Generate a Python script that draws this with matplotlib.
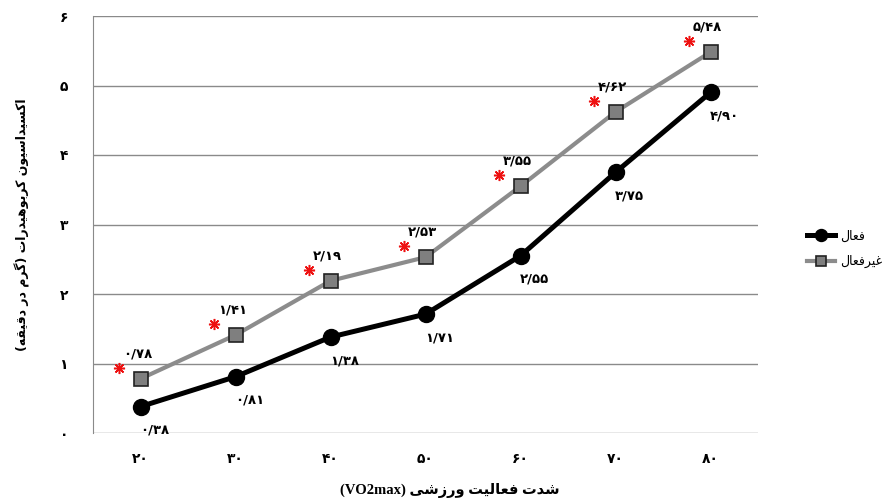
import numpy as np
import matplotlib
matplotlib.use("Agg")
import matplotlib.pyplot as plt
from matplotlib.transforms import offset_copy

# data
intensity = [20, 30, 40, 50, 60, 70, 80]
active = [0.38, 0.81, 1.38, 1.71, 2.55, 3.75, 4.90]
inactive = [0.78, 1.41, 2.19, 2.53, 3.55, 4.62, 5.48]
yticks = [0, 1, 2, 3, 4, 5, 6]

ylabel_txt = "اکسیداسیون کربوهیدرات (گرم در دقیقه)"
xlabel_txt = "شدت فعالیت ورزشی"
name_active = "فعال"
name_inactive = "غیرفعال"

# simple arabic/persian shaping (no bidi lib available)
FORMS = {
    'ا': (0xFE8D, 0xFE8E, None, None),
    'ب': (0xFE8F, 0xFE90, 0xFE91, 0xFE92),
    'ت': (0xFE95, 0xFE96, 0xFE97, 0xFE98),
    'د': (0xFEA9, 0xFEAA, None, None),
    'ر': (0xFEAD, 0xFEAE, None, None),
    'ز': (0xFEAF, 0xFEB0, None, None),
    'س': (0xFEB1, 0xFEB2, 0xFEB3, 0xFEB4),
    'ش': (0xFEB5, 0xFEB6, 0xFEB7, 0xFEB8),
    'ع': (0xFEC9, 0xFECA, 0xFECB, 0xFECC),
    'غ': (0xFECD, 0xFECE, 0xFECF, 0xFED0),
    'ف': (0xFED1, 0xFED2, 0xFED3, 0xFED4),
    'ق': (0xFED5, 0xFED6, 0xFED7, 0xFED8),
    'ل': (0xFEDD, 0xFEDE, 0xFEDF, 0xFEE0),
    'م': (0xFEE1, 0xFEE2, 0xFEE3, 0xFEE4),
    'ن': (0xFEE5, 0xFEE6, 0xFEE7, 0xFEE8),
    'ه': (0xFEE9, 0xFEEA, 0xFEEB, 0xFEEC),
    'و': (0xFEED, 0xFEEE, None, None),
    'ی': (0xFBFC, 0xFBFD, 0xFBFE, 0xFBFF),
    'ک': (0xFB8E, 0xFB8F, 0xFB90, 0xFB91),
    'گ': (0xFB92, 0xFB93, 0xFB94, 0xFB95),
}


def rtl(s):
    out = []
    for i, ch in enumerate(s):
        if ch not in FORMS:
            out.append(ch)
            continue
        f = FORMS[ch]
        prev = s[i - 1] if i > 0 else ''
        nxt = s[i + 1] if i + 1 < len(s) else ''
        join_prev = prev in FORMS and FORMS[prev][2] is not None
        join_next = f[2] is not None and nxt in FORMS
        if join_prev and join_next:
            out.append(chr(f[3]))
        elif join_prev:
            out.append(chr(f[1]))
        elif join_next:
            out.append(chr(f[2]))
        else:
            out.append(chr(f[0]))
    vis = ''.join(reversed(out))
    return vis.translate(str.maketrans('()', ')('))


FA = str.maketrans('0123456789', '۰۱۲۳۴۵۶۷۸۹')


def fa(v):
    return ('%.2f' % v).replace('.', '/').translate(FA)


plt.rcParams['font.family'] = ['DejaVu Sans']

fig = plt.figure(figsize=(8.96, 5.01), dpi=100)
ax = fig.add_axes([93 / 896, 68 / 501, 665 / 896, 417 / 501])

x = np.arange(len(intensity))
ax.plot(x, active, color='black', lw=3.6, marker='o', ms=11.5,
        mfc='black', mec='black', zorder=3, label=rtl(name_active))
ax.plot(x, inactive, color='#8c8c8c', lw=3.0, marker='s', ms=10.5,
        mfc='#7f7f7f', mec='#222222', mew=1.2, zorder=3, label=rtl(name_inactive))

# value labels
for xi, v in zip(x, active):
    ax.annotate(fa(v), (xi, v), xytext=(10, -17), textcoords='offset points',
                ha='center', va='center', fontsize=9.5, fontweight='bold')
for xi, v in zip(x, inactive):
    ax.annotate(fa(v), (xi, v), xytext=(-2, 18), textcoords='offset points',
                ha='center', va='center', fontsize=9.5, fontweight='bold')

# significance asterisks
star_tr = offset_copy(ax.transData, fig=fig, x=-22 * 0.72, y=11 * 0.72, units='points')
ax.plot(x, inactive, ls='none', marker=(8, 2, 0), ms=8, mew=1.1,
        color='#ee1111', transform=star_tr, zorder=4)

ax.set_xlim(-0.5, len(intensity) - 0.5)
ax.set_ylim(0, 6)
ax.set_yticks(yticks)
ax.set_yticklabels([str(t).translate(FA) for t in yticks], fontsize=10, fontweight='bold')
ax.set_xticks(x)
ax.set_xticklabels([str(t).translate(FA) for t in intensity], fontsize=10, fontweight='bold')
ax.tick_params(length=0, pad=14)
ax.tick_params(axis='y', pad=18)
ax.grid(axis='y', color='#8a8a8a', lw=1)
ax.set_axisbelow(True)
for side in ['top', 'right', 'bottom']:
    ax.spines[side].set_visible(False)
ax.spines['left'].set_color('#8a8a8a')

fig.text(450 / 896, 1 - 491 / 501, '(VO2max) ' + rtl(xlabel_txt), ha='center', va='center',
         fontsize=10.5, fontweight='bold', family=['Liberation Serif', 'DejaVu Sans'])
fig.text(22 / 896, 1 - 225 / 501, rtl(ylabel_txt), rotation=90, ha='center', va='center',
         fontsize=9, fontweight='bold')

ax.legend(loc='center left', bbox_to_anchor=(796 / 896, 1 - 249 / 501),
          bbox_transform=fig.transFigure, frameon=False, fontsize=9,
          handlelength=2.2, labelspacing=1.0, handletextpad=0.4, markerscale=0.75)

fig.savefig('out.png', dpi=100)
